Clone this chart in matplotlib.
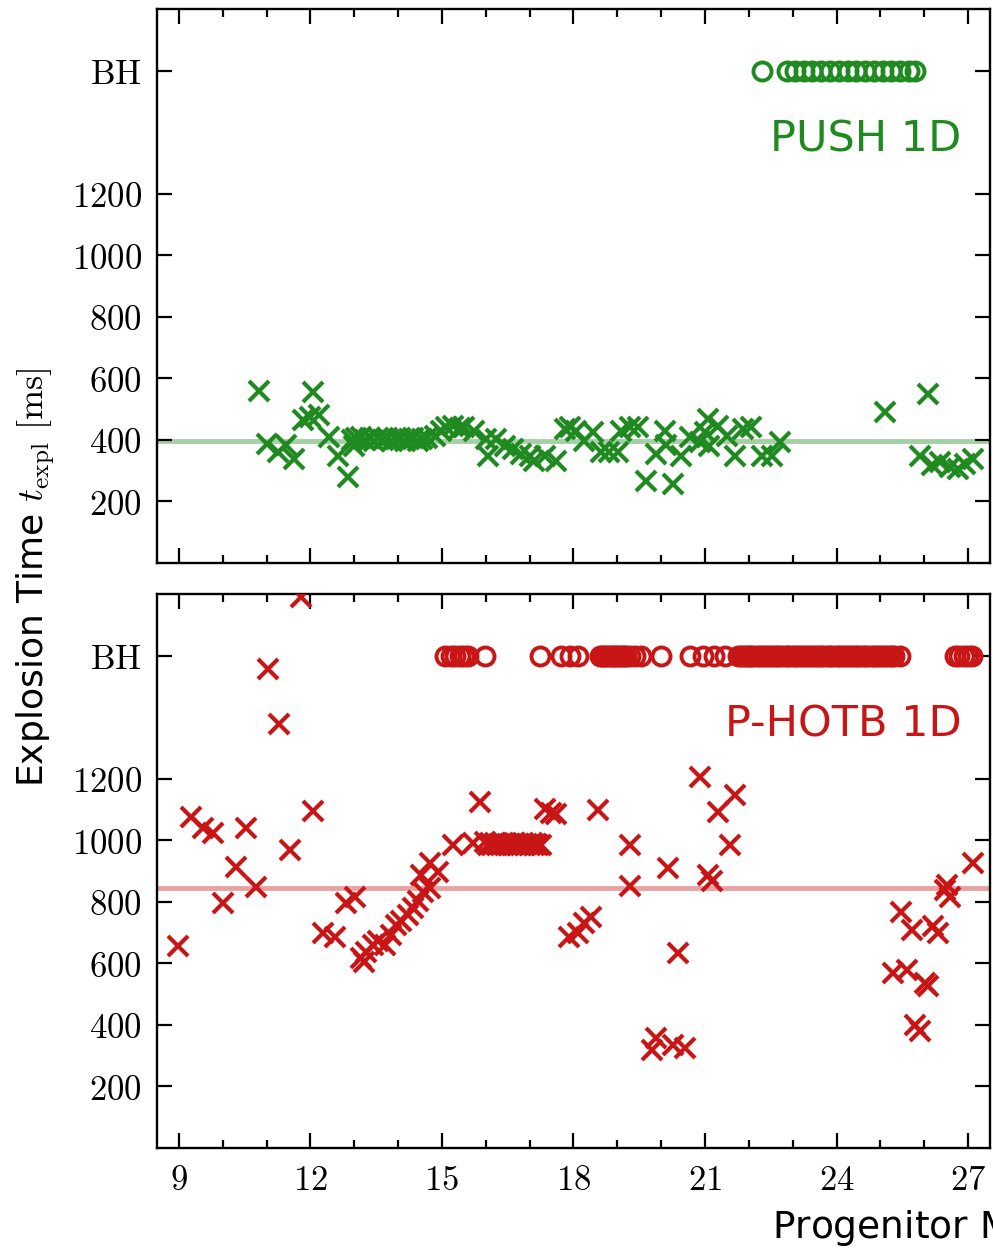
import matplotlib
matplotlib.use("Agg")
from matplotlib import pyplot as plt
from matplotlib.ticker import MultipleLocator

plt.rcParams["mathtext.fontset"] = "cm"
plt.rcParams["font.family"] = "DejaVu Sans"

GREEN = "#1f8a1f"
RED = "#c81616"
BH = 1600

# PUSH 1D: successful explosions (mass, explosion time in ms)
push_mass = [10.83, 11.02, 11.25, 11.44, 11.63, 11.82, 12.0, 12.05, 12.2, 12.43, 12.62, 12.85,
             13.0, 12.95, 13.05, 13.15, 13.25, 13.35, 13.45, 13.55, 13.65, 13.75, 13.85, 13.95,
             14.05, 14.15, 14.25, 14.35, 14.45, 14.55, 14.65, 14.83, 14.98, 15.1, 15.25, 15.4,
             15.51, 15.74, 16.0, 16.05, 16.24, 16.43, 16.62, 16.8, 17.0, 17.11, 17.34, 17.6,
             17.8, 17.91, 18.06, 18.25, 18.44, 18.63, 18.82, 19.02, 19.09, 19.28, 19.47, 19.66,
             19.89, 20.08, 20.1, 20.27, 20.46, 20.65, 20.88, 20.99, 21.07, 21.1, 21.3, 21.49,
             21.68, 21.87, 22.06, 22.29, 22.52, 22.71, 25.1, 26.09, 25.9, 26.17, 26.36, 26.59,
             26.78, 26.93, 27.12]
push_time = [560, 387, 360, 382, 338, 463, 475, 555, 480, 409, 349, 279,
             381, 400, 405, 410, 400, 405, 398, 405, 400, 405, 398, 402,
             405, 398, 402, 405, 398, 402, 405, 414, 430, 441, 446, 438,
             441, 430, 403, 349, 403, 381, 371, 355, 349, 333, 349, 333,
             436, 441, 430, 398, 425, 360, 360, 360, 430, 441, 441, 268,
             355, 430, 382, 257, 349, 409, 393, 425, 468, 381, 446, 414,
             349, 436, 441, 349, 349, 393, 490, 550, 349, 317, 328, 311,
             306, 322, 338]
# PUSH 1D: black hole formation
push_bh_mass = [22.29, 22.86, 23.05, 23.25, 23.45, 23.65, 23.85, 24.05, 24.25, 24.45,
                24.65, 24.85, 25.05, 25.25, 25.45, 25.65, 25.79]
push_mean = 397

# P-HOTB 1D: successful explosions
hotb_mass = [8.98, 9.27, 9.54, 9.77, 10.0, 10.3, 10.53, 10.76, 11.03, 11.29, 11.54, 11.79,
             12.05, 12.28, 12.55, 12.8, 13.02, 13.16, 13.23, 13.27, 13.42, 13.54, 13.69, 13.84,
             13.95, 14.07, 14.22, 14.34, 14.45, 14.56, 14.53, 14.72, 14.9, 14.72, 15.25, 15.7,
             15.86, 15.97, 16.05, 16.1, 16.15, 16.2, 16.25, 16.3, 16.35, 16.4, 16.5, 16.55,
             16.6, 16.65, 16.7, 16.75, 16.8, 16.85, 16.9, 16.95, 17.0, 17.05, 17.1, 17.15,
             17.2, 17.27, 17.34, 17.49, 17.6, 17.9, 18.1, 18.25, 18.4, 18.56, 19.28, 19.3,
             20.16, 19.78, 19.89, 20.27, 20.54, 20.38, 20.88, 21.07, 21.15, 21.3, 21.56, 21.68,
             25.29, 25.48, 25.6, 25.71, 25.79, 25.9, 26.02, 26.09, 26.2, 26.32, 26.47, 26.51,
             26.59, 27.12]
hotb_time = [655, 1077, 1039, 1022, 795, 914, 1039, 849, 1556, 1376, 968, 1790,
             1095, 698, 687, 795, 815, 617, 605, 638, 660, 671, 660, 692,
             725, 736, 757, 779, 801, 833, 887, 925, 898, 844, 985, 990,
             1125, 995, 985, 988, 983, 990, 985, 987, 983, 990, 985, 988,
             983, 990, 985, 987, 983, 990, 985, 988, 983, 990, 985, 987,
             983, 985, 1103, 1087, 1085, 685, 700, 730, 750, 1098, 985, 850,
             909, 319, 357, 335, 324, 633, 1206, 887, 866, 1093, 985, 1147,
             568, 768, 579, 709, 400, 379, 535, 525, 720, 698, 838, 855,
             817, 925]
# P-HOTB 1D: black hole formation
hotb_bh_mass = [15.06, 15.2, 15.3, 15.4, 15.5, 15.6, 15.97, 17.23, 17.72, 17.91, 18.1,
                18.6, 18.65, 18.7, 18.75, 18.8, 18.85, 18.9, 18.95, 19.0, 19.05, 19.1, 19.15,
                19.2, 19.3, 19.4, 19.55, 20.0, 20.65, 20.95, 21.2, 21.45,
                21.76, 21.82, 21.88, 21.95, 22.0, 22.06, 22.12, 22.2, 22.25, 22.32, 22.4, 22.45,
                22.52, 22.6, 22.66, 22.72, 22.8, 22.86, 22.92, 23.0, 23.05, 23.12, 23.2, 23.26,
                23.32, 23.4, 23.46, 23.52, 23.6, 23.65, 23.72, 23.8, 23.86, 23.92, 24.0, 24.06,
                24.12, 24.2, 24.26, 24.32, 24.4, 24.46, 24.52, 24.6, 24.66, 24.72, 24.8, 24.86,
                24.92, 25.0, 25.06, 25.12, 25.2, 25.26, 25.32, 25.45,
                26.7, 26.8, 26.9, 27.0, 27.08]
hotb_mean = 845

ytick_vals = [200, 400, 600, 800, 1000, 1200, BH]
ytick_labels = ["$200$", "$400$", "$600$", "$800$", "$1000$", "$1200$", r"$\mathrm{BH}$"]
xtick_vals = [9, 12, 15, 18, 21, 24, 27]


def style_axis(ax, show_x):
    ax.set_xlim(8.5, 27.5)
    ax.set_ylim(0, 1800)
    ax.set_yticks(ytick_vals, ytick_labels)
    ax.set_xticks(xtick_vals, ["$%d$" % v for v in xtick_vals])
    ax.xaxis.set_minor_locator(MultipleLocator(1))
    ax.tick_params(which="both", direction="in", top=True, right=True, width=1.6,
                   labelsize=25, labelbottom=show_x)
    ax.tick_params(which="major", length=11)
    ax.tick_params(which="minor", length=6)
    ax.tick_params(axis="y", pad=11)
    ax.tick_params(axis="x", pad=11)
    for s in ax.spines.values():
        s.set_linewidth(1.7)


def panel(ax, mass, time, bh_mass, mean, color, label, show_x):
    ax.axhline(mean, color=color, alpha=0.4, lw=3.5, zorder=1)
    ax.plot(mass, time, "x", color=color, ms=14, mew=3.0, zorder=3)
    ax.plot(bh_mass, [BH] * len(bh_mass), "o", mfc="none", mec=color, ms=13, mew=2.8,
            zorder=3)
    ax.text(26.85, 1375, label, color=color, fontsize=31, ha="right", va="center")
    style_axis(ax, show_x)


fig = plt.figure(figsize=(9.93, 12.56), dpi=100)
ax_top = fig.add_axes([157 / 993, 1 - 563 / 1256, 833 / 993, 554 / 1256])
ax_bot = fig.add_axes([157 / 993, 1 - 1148 / 1256, 833 / 993, 554 / 1256])

panel(ax_top, push_mass, push_time, push_bh_mass, push_mean, GREEN, "PUSH 1D", False)
panel(ax_bot, hotb_mass, hotb_time, hotb_bh_mass, hotb_mean, RED, "P-HOTB 1D", True)

fig.text(36 / 993, 1 - 577 / 1256, r"Explosion Time $t_{\rm expl}\ [\rm ms]$",
         rotation=90, ha="center", va="center", fontsize=26)
# the axis label runs past the right edge, as in the source figure
fig.text(772 / 993, 1 - 1228 / 1256, r"Progenitor Mass [M$_\odot$]",
         ha="left", va="center", fontsize=27)

fig.savefig("out.png", dpi=100)
